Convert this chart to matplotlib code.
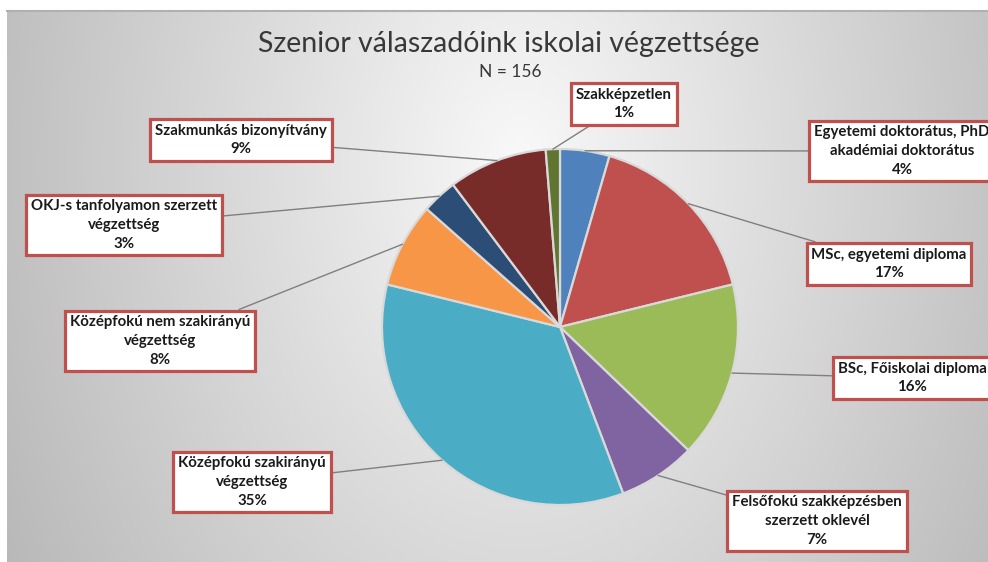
import numpy as np
import matplotlib.pyplot as plt

# data (respondent counts, N = 156)
categories = [
    "Egyetemi doktorátus, PhD\nakadémiai doktorátus",
    "MSc, egyetemi diploma",
    "BSc, Főiskolai diploma",
    "Felsőfokú szakképzésben\nszerzett oklevél",
    "Középfokú szakirányú\nvégzettség",
    "Középfokú nem szakirányú\nvégzettség",
    "OKJ-s tanfolyamon szerzett\nvégzettség",
    "Szakmunkás bizonyítvány",
    "Szakképzetlen",
]
counts = [7, 26, 25, 11, 54, 12, 5, 14, 2]
colors = ["#4F81BD", "#C0504D", "#9BBB59", "#8064A2", "#4BACC6",
          "#F79646", "#2C4D75", "#772C2A", "#5F7530"]
# label box centres in image pixels (x, y from top)
label_pos = [(902, 151), (889, 264), (912, 378), (817, 521), (252, 482),
             (160, 341), (124, 225), (241, 140), (624, 104)]

W, H = 988, 562
fig = plt.figure(figsize=(W / 100, H / 100), dpi=100)
ax = fig.add_axes([0, 0, 1, 1])

# background gradient of the chart area
x0, y_top = 7, H - 11
gx = np.linspace(x0, W, 400)
gy = np.linspace(0, y_top, 250)
X, Y = np.meshgrid(gx, gy)
d = np.sqrt(((X - 520) / 560) ** 2 + ((Y - 400) / 800) ** 2)
v = 0.975 - 0.24 * np.clip(d, 0, 1.2)
img = np.dstack([v, v, v])
ax.imshow(img, extent=(x0, W, 0, y_top), origin="lower", zorder=0, aspect="auto")
ax.plot([x0, W], [y_top, y_top], color="#b0b0b0", lw=1.5, zorder=1)

cx, cy, r = 560, H - 327, 178
wedges, _ = ax.pie(counts, colors=colors, startangle=90, counterclock=False,
                   center=(cx, cy), radius=r, frame=True,
                   wedgeprops=dict(edgecolor="#d9d9d9", linewidth=1.6))
for w in wedges:
    w.set_zorder(2)
ax.set_xlim(0, W)
ax.set_ylim(0, H)
ax.set_aspect("equal")
ax.axis("off")

total = sum(counts)
cum = 0
for i, c in enumerate(counts):
    mid = (cum + c / 2) / total * 2 * np.pi
    cum += c
    px, py = cx + r * np.sin(mid), cy + r * np.cos(mid)
    lx, ly = label_pos[i]
    pct = round(100 * c / total)
    ax.annotate(f"{categories[i]}\n{pct}%", xy=(px, py), xytext=(lx, H - ly),
                ha="center", va="center", fontsize=10.8, fontweight="bold",
                family="Lato", color="#1a1a1a", linespacing=1.42, zorder=5,
                bbox=dict(boxstyle="square,pad=0.32", fc="white",
                          ec="#C0504D", lw=2.3),
                arrowprops=dict(arrowstyle="-", color="#7f7f7f", lw=1,
                                shrinkA=0, shrinkB=0))

ax.text(509, H - 44, "Szenior válaszadóink iskolai végzettsége", ha="center",
        va="center", fontsize=20.5, family="Lato", color="#383838", zorder=5)
ax.text(510, H - 72, "N = 156", ha="center", va="center", fontsize=12.5,
        family="Lato", color="#383838", zorder=5)

fig.savefig("out.png", dpi=100)
